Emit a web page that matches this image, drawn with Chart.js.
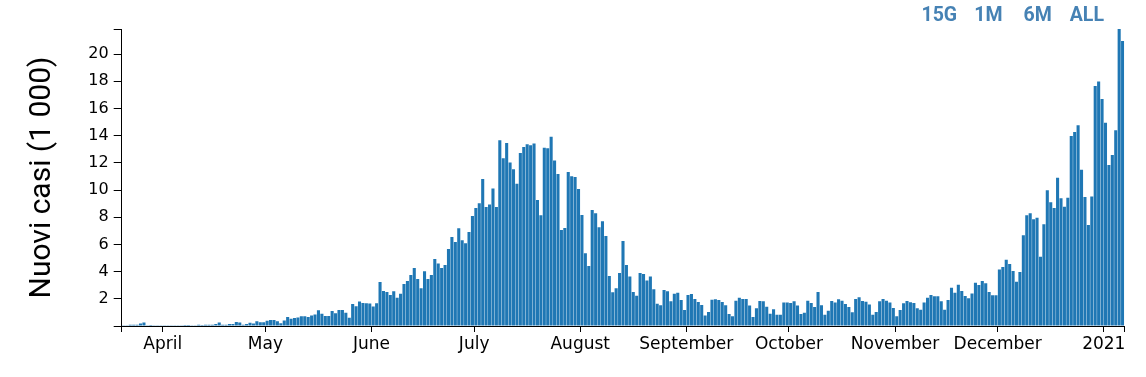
<!DOCTYPE html>
<html>
<head>
<meta charset="utf-8">
<script src="https://cdn.jsdelivr.net/npm/chart.js@4/dist/chart.umd.min.js"></script>
<style>
    html, body { margin: 0; padding: 0; background: #fff; }
    #wrap { position: relative; width: 1146px; height: 377px; }
    #chart { position: absolute; left: 0; top: 0; }
    .range-buttons { position: absolute; left: 914.7px; top: 5px; height: 20px; }
    .range-buttons span {
        display: inline-block; width: 49.2px; text-align: center;
        font-family: Roboto, sans-serif; font-weight: bold; font-size: 19.5px;
        line-height: 20px; color: #4682b4; cursor: pointer;
    }
</style>
</head>
<body>
<div id="wrap">
    <canvas id="chart" width="1146" height="377"></canvas>
    <div class="range-buttons">
        <span>15G</span><span>1M</span><span>6M</span><span>ALL</span>
    </div>
</div>
<script>
// daily new cases, thousands, one value per day from 20 March 2020
const startDate = Date.UTC(2020, 2, 20);
const casesMar = [0.02, 0.02, 0.1, 0.1, 0.1, 0.18, 0.25, 0.02, 0.07, 0.02, 0.02, 0.02];
const casesApr = [0.06, 0.02, 0.06, 0.02, 0.02, 0.02, 0.07, 0.07, 0.02, 0.02,
    0.09, 0.08, 0.09, 0.09, 0.09, 0.15, 0.25, 0.1, 0.1, 0.15,
    0.15, 0.3, 0.25, 0.1, 0.15, 0.23, 0.18, 0.35, 0.28, 0.28];
const casesMay = [0.38, 0.45, 0.45, 0.35, 0.2, 0.4, 0.66, 0.53, 0.58, 0.63,
    0.71, 0.71, 0.66, 0.78, 0.84, 1.16, 0.9, 0.74, 0.74, 1.1,
    0.93, 1.18, 1.18, 0.98, 0.61, 1.62, 1.45, 1.8, 1.7, 1.67, 1.65];
const casesJun = [1.43, 1.67, 3.24, 2.58, 2.5, 2.28, 2.55, 2.08, 2.38, 3.09,
    3.31, 3.75, 4.27, 3.46, 2.77, 4.02, 3.46, 3.75, 4.93, 4.59,
    4.27, 4.49, 5.67, 6.55, 6.18, 7.19, 6.3, 6.08, 6.92, 8.09];
const casesJul = [8.68, 9.03, 10.82, 8.75, 8.93, 10.11, 8.76, 13.66, 12.34, 13.47,
    12.02, 11.53, 10.47, 12.73, 13.17, 13.37, 13.3, 13.42, 9.27, 8.14,
    13.12, 13.07, 13.93, 12.17, 11.18, 7.06, 7.21, 11.33, 11.01, 10.96, 10.08];
const casesAug = [8.17, 5.35, 4.41, 8.54, 8.29, 7.26, 7.7, 6.62, 3.68, 2.48,
    2.77, 3.9, 6.25, 4.49, 3.65, 2.5, 2.23, 3.9, 3.83, 3.34,
    3.65, 2.7, 1.64, 1.52, 2.65, 2.55, 1.82, 2.38, 2.45, 1.91, 1.18];
const casesSep = [2.28, 2.35, 1.99, 1.77, 1.55, 0.78, 1.03, 1.94, 1.96, 1.91,
    1.77, 1.52, 0.88, 0.71, 1.86, 2.08, 1.99, 1.99, 1.5, 0.66,
    1.3, 1.84, 1.82, 1.42, 0.91, 1.23, 0.83, 0.83, 1.72, 1.72];
const casesOct = [1.69, 1.82, 1.5, 0.88, 0.98, 1.86, 1.69, 1.4, 2.5, 1.52,
    0.83, 1.13, 1.84, 1.72, 1.96, 1.86, 1.62, 1.4, 1.01, 1.99,
    2.11, 1.84, 1.79, 1.59, 0.83, 1.03, 1.82, 1.99, 1.86, 1.72, 1.32];
const casesNov = [0.71, 1.18, 1.67, 1.84, 1.74, 1.69, 1.3, 1.2, 1.72, 2.08,
    2.28, 2.18, 2.18, 1.82, 1.2, 1.91, 2.82, 2.45, 3.04, 2.58,
    2.21, 2.04, 2.4, 3.19, 3.02, 3.31, 3.14, 2.5, 2.26, 2.26];
const casesDec = [4.15, 4.34, 4.88, 4.56, 4.05, 3.26, 3.97, 6.67, 8.14, 8.29,
    7.85, 7.97, 5.1, 7.48, 9.98, 9.1, 8.68, 10.91, 9.39, 8.78,
    9.44, 13.98, 14.28, 14.77, 11.5, 9.49, 7.43, 9.52, 17.66, 17.98, 16.7];
const casesJan = [14.96, 11.85, 12.58, 14.4, 21.85, 20.97];

const monthLabels = ['April', 'May', 'June', 'July', 'August', 'September',
    'October', 'November', 'December', '2021'];
const yTickValues = [2, 4, 6, 8, 10, 12, 14, 16, 18, 20];
const yTitle = 'Nuovi casi (1 000)';

const cases = [].concat(casesMar, casesApr, casesMay, casesJun, casesJul,
    casesAug, casesSep, casesOct, casesNov, casesDec, casesJan);
const dayCount = cases.length;
const maxCases = Math.max(...cases);

// find the first day of each month, label them in order
const labelsByDay = {};
let labelIdx = 0;
cases.forEach((v, i) => {
    const d = new Date(startDate + i * 86400000);
    if (d.getUTCDate() === 1 && labelIdx < monthLabels.length) {
        labelsByDay[i] = monthLabels[labelIdx++];
    }
});
const xTickDays = [0, ...Object.keys(labelsByDay).map(Number), dayCount];

Chart.defaults.font.family = 'DejaVu Sans';
Chart.defaults.color = '#000';

new Chart(document.getElementById('chart'), {
    type: 'bar',
    data: {
        datasets: [{
            data: cases.map((v, i) => ({ x: i + 0.5, y: v })),
            backgroundColor: '#1f77b4',
            borderWidth: 0,
            barPercentage: 0.9,
            categoryPercentage: 1
        }]
    },
    options: {
        responsive: false,
        animation: false,
        devicePixelRatio: 1,
        layout: { padding: { top: 29, right: 21.7, bottom: 0, left: 0 } },
        plugins: {
            legend: { display: false },
            tooltip: { enabled: false }
        },
        scales: {
            x: {
                type: 'linear',
                min: 0,
                max: dayCount,
                offset: false,
                afterBuildTicks: scale => {
                    scale.ticks = xTickDays.map(v => ({ value: v }));
                },
                afterFit: scale => { scale.height = 51; },
                grid: { offset: false, drawOnChartArea: false, drawTicks: true, tickLength: 6, color: '#000' },
                border: { display: true, color: '#000', width: 1 },
                ticks: {
                    autoSkip: false,
                    maxRotation: 0,
                    padding: 2,
                    font: { size: 17 },
                    callback: value => labelsByDay[value] || ''
                }
            },
            y: {
                min: 0,
                max: maxCases,
                afterBuildTicks: scale => {
                    scale.ticks = [0, ...yTickValues, maxCases].map(v => ({ value: v }));
                },
                afterFit: scale => { scale.width = 121.7; },
                grid: { offset: false, drawOnChartArea: false, drawTicks: true, tickLength: 8, color: '#000' },
                border: { display: true, color: '#000', width: 1 },
                ticks: {
                    padding: 5,
                    font: { size: 16 },
                    callback: value => (yTickValues.includes(value) ? value : '')
                },
                title: {
                    display: true,
                    text: yTitle,
                    font: { family: 'Roboto', size: 30 },
                    padding: { top: 24, bottom: 0 }
                }
            }
        }
    }
});
</script>
</body>
</html>
